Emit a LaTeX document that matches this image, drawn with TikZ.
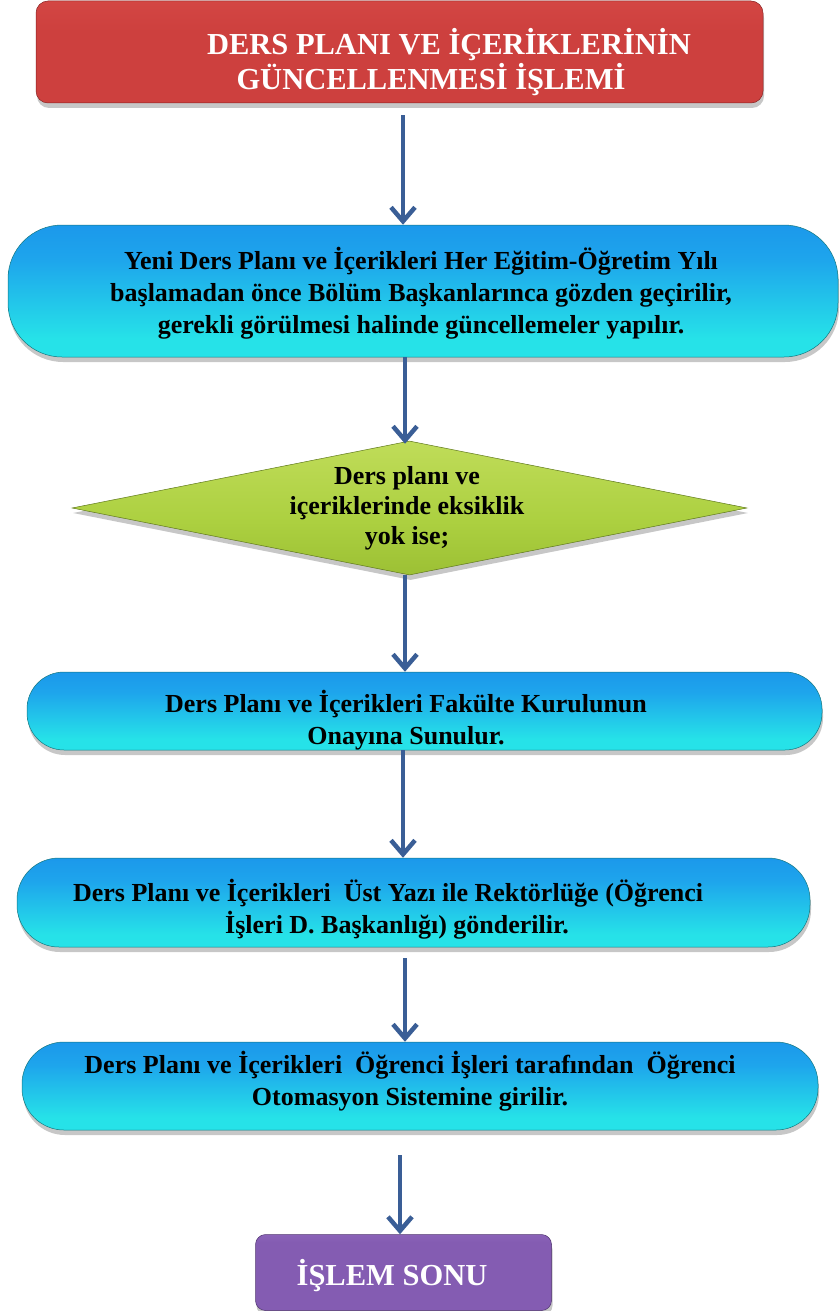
\documentclass[tikz,border=0pt]{standalone}
\usepackage{fontspec}
\setmainfont{Liberation Serif}
\usetikzlibrary{arrows.meta,shapes.geometric,shadows}

\definecolor{arrowblue}{RGB}{58,94,150}
\definecolor{bT}{RGB}{22,128,232}
\definecolor{bM}{RGB}{30,165,236}
\definecolor{bC}{RGB}{38,226,232}
\definecolor{bB}{RGB}{28,170,180}
\definecolor{rT}{RGB}{222,80,76}
\definecolor{rM}{RGB}{205,64,62}
\definecolor{rB}{RGB}{170,44,44}
\definecolor{gT}{RGB}{208,230,110}
\definecolor{gM}{RGB}{172,208,64}
\definecolor{gB}{RGB}{136,172,38}
\definecolor{pT}{RGB}{172,132,215}
\definecolor{pM}{RGB}{132,92,178}
\definecolor{pB}{RGB}{100,66,140}

\pgfdeclareverticalshading{blueshade}{100bp}{color(0bp)=(bB); color(9bp)=(bC); color(32bp)=(bC); color(62bp)=(bM); color(100bp)=(bT)}
\pgfdeclareverticalshading{redshade}{100bp}{color(0bp)=(rB); color(10bp)=(rM); color(60bp)=(rM); color(100bp)=(rT)}
\pgfdeclareverticalshading{greenshade}{100bp}{color(0bp)=(gB); color(45bp)=(gM); color(100bp)=(gT)}
\pgfdeclareverticalshading{purpleshade}{100bp}{color(0bp)=(pB); color(12bp)=(pM); color(70bp)=(pM); color(100bp)=(pT)}

\tikzset{
  boxshadow/.style={drop shadow={shadow xshift=1pt, shadow yshift=-5pt, fill=black, opacity=0.22}},
  redbox/.style={rectangle, rounded corners=12pt, inner sep=0pt, shading=redshade, draw=rB!80!black, line width=0.5pt, boxshadow},
  bluebox/.style={rectangle, inner sep=0pt, shading=blueshade, draw=bB!70!black, line width=0.5pt, boxshadow},
  greendia/.style={diamond, inner sep=0pt, shading=greenshade, draw=gB!70!black, line width=0.5pt, boxshadow},
  purplebox/.style={rectangle, rounded corners=10pt, inner sep=0pt, shading=purpleshade, draw=pB!80!black, line width=0.5pt, boxshadow},
  btext/.style={align=center, font=\fontsize{26}{32}\selectfont\bfseries, text=black},
  wtext/.style={align=center, font=\fontsize{30.5}{35}\selectfont\bfseries, text=white},
  arr/.style={draw=arrowblue, line width=4.5pt, -{Straight Barb[length=14pt, width=24pt]}}
}

\begin{document}
\begin{tikzpicture}[x=1pt, y=-1pt]
\useasboundingbox (0,0) rectangle (839,1311);

% boxes
\node[redbox, minimum width=727pt, minimum height=102pt] (title) at (399.5,52) {};
\node[bluebox, rounded corners=54pt, minimum width=830pt, minimum height=132pt] (b2) at (423,291) {};
\node[greendia, minimum width=675pt, minimum height=134pt] (dia) at (409.5,508) {};
\node[bluebox, rounded corners=37pt, minimum width=795pt, minimum height=78pt] (b3) at (424.5,711) {};
\node[bluebox, rounded corners=42pt, minimum width=793pt, minimum height=89pt] (b4) at (413.5,902.5) {};
\node[bluebox, rounded corners=42pt, minimum width=796pt, minimum height=88pt] (b5) at (420,1086) {};
\node[purplebox, minimum width=296pt, minimum height=76pt] (end) at (403.5,1272.5) {};

% texts
\node[wtext] (titletext) at (440,62) {\hspace*{18pt}DERS PLANI VE İÇERİKLERİNİN\\GÜNCELLENMESİ İŞLEMİ\hspace*{18pt}};
\node[btext] (t2) at (421,293) {Yeni Ders Planı ve İçerikleri Her Eğitim-Öğretim Yılı\\başlamadan önce Bölüm Başkanlarınca gözden geçirilir,\\gerekli görülmesi halinde güncellemeler yapılır.};
\node[btext, font=\fontsize{26}{30}\selectfont\bfseries] (tdia) at (407,508) {Ders planı ve\\içeriklerinde eksiklik\\yok ise;};
\node[btext] (t3) at (406,720) {Ders Planı ve İçerikleri Fakülte Kurulunun\\Onayına Sunulur.};
\node[btext] (t4) at (392,909) {Ders Planı ve İçerikleri\ \ Üst Yazı ile Rektörlüğe (Öğrenci\hspace*{8pt}\\\hspace*{10pt}İşleri D. Başkanlığı) gönderilir.};
\node[btext] (t5) at (410,1081) {Ders Planı ve İçerikleri\ \ Öğrenci İşleri tarafından\ \ Öğrenci\\Otomasyon Sistemine girilir.};
\node[wtext] (endtext) at (392,1276) {İŞLEM SONU};

% connectors
\draw[arr] ([xshift=3.5pt, yshift=-12pt]title.south) -- ([xshift=-20pt]b2.north);
\draw[arr] ([xshift=-18pt]b2.south) -- ([xshift=-4.5pt, yshift=-3pt]dia.north);
\draw[arr] ([xshift=-4.5pt]dia.south) -- ([xshift=-19.5pt]b3.north);
\draw[arr] ([xshift=-21.5pt]b3.south) -- ([xshift=-10.5pt]b4.north);
\draw[arr] ([xshift=-8.5pt, yshift=-11pt]b4.south) -- ([xshift=-15pt]b5.north);
\draw[arr] ([xshift=-20pt, yshift=-25pt]b5.south) -- ([xshift=-3.5pt]end.north);
\end{tikzpicture}
\end{document}
